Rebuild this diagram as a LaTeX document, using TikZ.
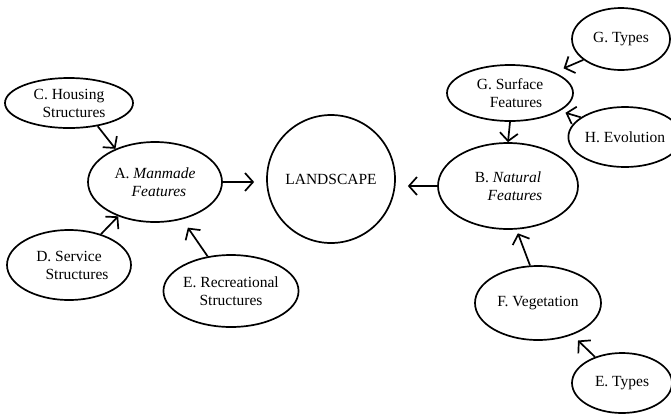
\documentclass[tikz,border=0pt]{standalone}
\usepackage{fontspec}
\setmainfont{Liberation Serif}
\usetikzlibrary{shapes.geometric,arrows.meta,calc}
\begin{document}
\begin{tikzpicture}[x=1pt,y=-1pt,
  ell/.style={draw,ellipse,line width=1.7pt,inner sep=0pt,align=center,
    font=\fontsize{15.5}{18}\selectfont},
  arr/.style={line width=1.7pt,-{Straight Barb[length=8pt,width=18pt,line width=1.7pt]}}]
\useasboundingbox (0,0) rectangle (671,413);
\node[ell,minimum width=128pt,minimum height=50pt] (C) at (69,103) {C. Housing\\\hspace*{10pt}Structures};
\node[ell,minimum width=134pt,minimum height=80pt] (A) at (155,182) {A. \textit{Manmade}\\\hspace*{8pt}\textit{Features}};
\node[draw,circle,line width=1.7pt,minimum size=128pt,inner sep=0pt,font=\fontsize{15.5}{18}\selectfont] (L) at (331,179) {LANDSCAPE};
\node[ell,minimum width=140pt,minimum height=86pt] (B) at (508,186) {B. \textit{Natural}\\\hspace*{14pt}\textit{Features}};
\node[ell,minimum width=126pt,minimum height=56pt] (GS) at (510,93) {G. Surface\\\hspace*{12pt}Features};
\node[ell,minimum width=98pt,minimum height=62pt] (GT) at (621,39) {G. Types};
\node[ell,minimum width=106pt,minimum height=60pt] (H) at (625,137) {H. Evolution};
\node[ell,minimum width=126pt,minimum height=74pt] (F) at (538,303) {F. Vegetation};
\node[ell,minimum width=100pt,minimum height=60pt] (ET) at (622,383) {E. Types};
\node[ell,minimum width=124pt,minimum height=70pt] (D) at (69,265) {D. Service\\\hspace*{16pt}Structures};
\node[ell,minimum width=128pt,minimum height=72pt] (E) at (231,291) {E. Recreational\\Structures};
\draw[arr] (C.-39) -- (A.140);
\draw[arr] (D.44) -- (A.223);
\draw[arr,shorten >=10pt] (E.124) -- (A.-54);
\draw[arr,shorten >=12pt] (A.east) -- (A.east -| L.west);
\draw[arr,shorten >=12pt] (B.west) -- (B.west -| L.east);
\draw[arr] (GS.south) -- (B.north);
\draw[arr,shorten >=10pt] (GT.209) -- (GS.25);
\draw[arr,shorten >=6pt] (H.156) -- (GS.-20);
\draw[arr,shorten >=4pt] (F.102) -- (B.-79);
\draw[arr,shorten >=8pt] (ET.136) -- (F.-43);
\end{tikzpicture}
\end{document}
